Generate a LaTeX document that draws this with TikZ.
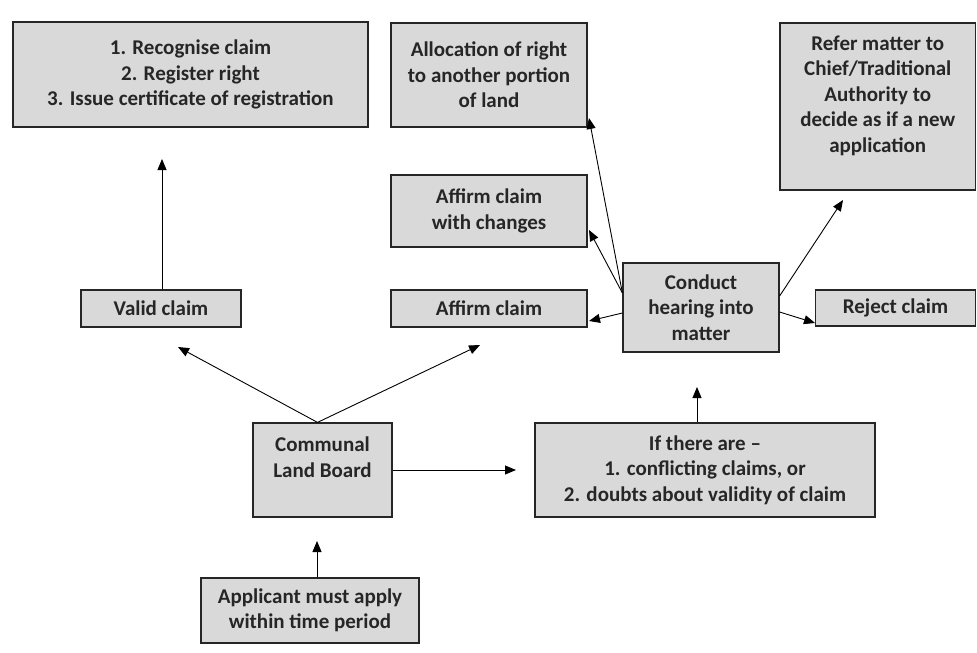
\documentclass[tikz,border=0pt]{standalone}
\usepackage{fontspec}
\setmainfont{Carlito}
\usetikzlibrary{arrows.meta,calc}
\definecolor{boxfill}{HTML}{D9D9D9}
\definecolor{txtgray}{HTML}{262626}
\begin{document}
\begin{tikzpicture}[x=1pt,y=-1pt,
  box/.style={draw=black!85, line width=1.2pt, fill=boxfill, text=txtgray,
    font=\bfseries\fontsize{21}{25.5}\selectfont, align=center, inner sep=0pt},
  arr/.style={line width=0.9pt, -{Triangle[length=11pt,width=9pt]}}]
\useasboundingbox (0,0) rectangle (977,653);
% boxes
\node[box, minimum width=355pt, minimum height=105pt] (rec) at (190.5,74.5)
  {1. Recognise claim\\2. Register right\\3. Issue certificate of registration};
\node[box, minimum width=196pt, minimum height=104pt] (alloc) at (489,75)
  {Allocation of right\\to another portion\\of land};
\node[box, minimum width=195.5pt, minimum height=167pt] (refer) at (877.75,106.5)
  {Refer matter to\\Chief/Traditional\\Authority to\\decide as if a new\\application\\\mbox{}};
\node[box, minimum width=196pt, minimum height=72pt] (chg) at (489,211)
  {Affirm claim\\with changes};
\node[box, minimum width=160pt, minimum height=37pt] (valid) at (161,308.5)
  {Valid claim};
\node[box, minimum width=196pt, minimum height=37pt] (affirm) at (489,308.5)
  {Affirm claim};
\node[box, minimum width=156pt, minimum height=89pt] (conduct) at (701,307.5)
  {Conduct\\hearing into\\matter};
\node[box, minimum width=160pt, minimum height=36pt] (reject) at (895.5,308)
  {Reject claim};
\node[box, minimum width=139pt, minimum height=94pt] (comm) at (322.5,470)
  {Communal\\Land Board\\\mbox{}};
\node[box, minimum width=340pt, minimum height=94pt] (ifb) at (705,470)
  {If there are --\\1. conflicting claims, or\\2. doubts about validity of claim};
\node[box, minimum width=218pt, minimum height=65pt] (appl) at (310,610.5)
  {Applicant must apply\\within time period};
% free arrow ends
\coordinate (tA) at (317,541);
\coordinate (tV) at (178,347);
\coordinate (tAf) at (480,345);
\coordinate (tI) at (516,470);
\coordinate (tC) at (697,387);
\coordinate (tR) at (162,159);
\coordinate (tAl) at (589,118);
\coordinate (tCh) at (589,230);
\coordinate (tAc) at (589,321);
\coordinate (tRe) at (843,200);
\coordinate (tRj) at (815,323);
% connectors
\draw[arr] ($(appl.north)+(7,0)$) -- (tA);
\draw[arr] ($(comm.north)+(-5,0)$) -- (tV);
\draw[arr] ($(comm.north)+(-5,0)$) -- (tAf);
\draw[arr] (comm.east) -- (tI);
\draw[arr] ($(ifb.north)+(-8,0)$) -- (tC);
\draw[arr] ($(valid.north)+(1,0)$) -- (tR);
\draw[arr] ($(conduct.west)+(0,-14.5)$) -- (tAl);
\draw[arr] ($(conduct.west)+(0,-14.5)$) -- (tCh);
\draw[arr] ($(conduct.west)+(0,5.5)$) -- (tAc);
\draw[arr] ($(conduct.east)+(0,-11.5)$) -- (tRe);
\draw[arr] ($(conduct.east)+(0,4.5)$) -- (tRj);
\end{tikzpicture}
\end{document}
